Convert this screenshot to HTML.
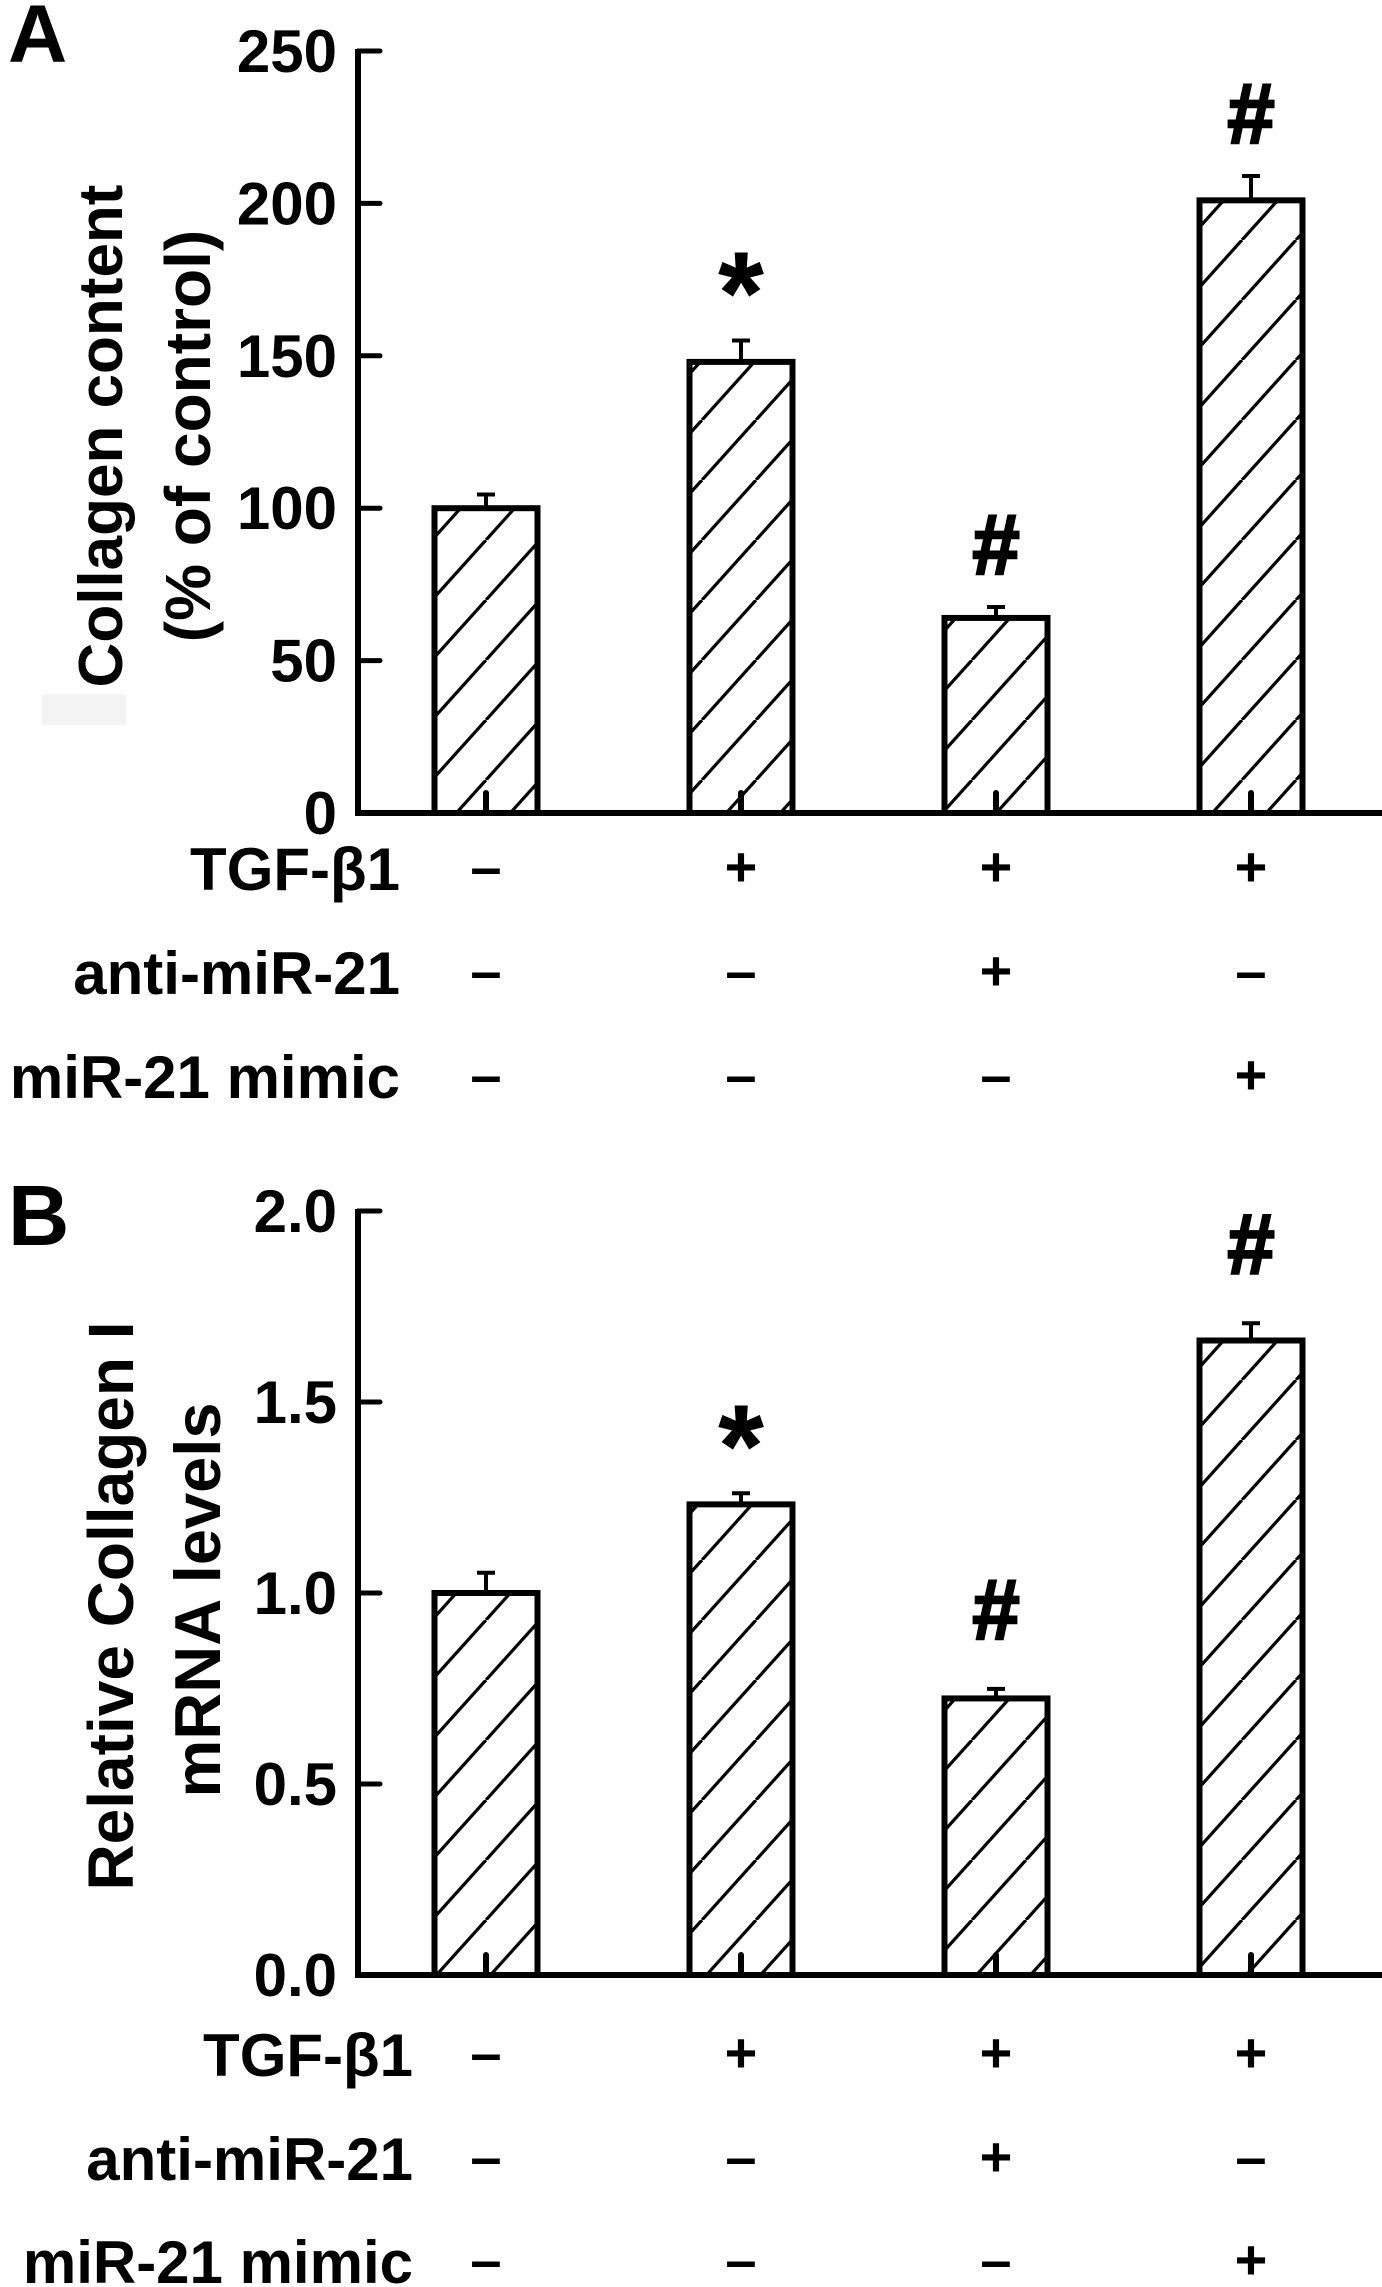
<!DOCTYPE html>
<html><head><meta charset="utf-8"><style>
html,body{margin:0;padding:0;background:#fff;}
svg{display:block;font-family:"Liberation Sans",Arial,sans-serif;font-weight:bold;}
</style></head><body>
<svg id="chart" width="1382" height="2287" viewBox="0 0 1382 2287" xmlns="http://www.w3.org/2000/svg">
<defs>
<pattern id="hatch" patternUnits="userSpaceOnUse" width="54" height="60">
<line x1="0" y1="60" x2="54" y2="0" stroke="#000" stroke-width="3.2"/>
<line x1="-54" y1="60" x2="0" y2="0" stroke="#000" stroke-width="3.2"/>
<line x1="54" y1="60" x2="108" y2="0" stroke="#000" stroke-width="3.2"/>
</pattern>
</defs>
<rect x="42" y="694" width="84" height="31" fill="#f4f4f4"/>
<text x="8" y="62" font-size="82">A</text>
<text x="8" y="1245" font-size="85">B</text>
<text transform="translate(122,436) rotate(-90)" text-anchor="middle" font-size="62">Collagen content</text>
<text transform="translate(210,436) rotate(-90)" text-anchor="middle" font-size="64">(% of control)</text>
<text transform="translate(133,1606) rotate(-90)" text-anchor="middle" font-size="64">Relative Collagen I</text>
<text transform="translate(220,1600) rotate(-90)" text-anchor="middle" font-size="65">mRNA levels</text>
<g id="panelA"></g>
<g id="panelB"></g>
</svg>
<script>
const groups = ["control","TGF-b1","TGF-b1+anti-miR-21","TGF-b1+miR-21 mimic"];
const valuesA = [100, 148, 64, 201];
const errorsA = [4.5, 7, 3.6, 8];
const ticksA = [0, 50, 100, 150, 200, 250];
const tickLabelsA = ["0","50","100","150","200","250"];
const valuesB = [1.0, 1.232, 0.724, 1.661];
const errorsB = [0.053, 0.029, 0.025, 0.045];
const ticksB = [0, 0.5, 1.0, 1.5, 2.0];
const tickLabelsB = ["0.0","0.5","1.0","1.5","2.0"];
const rowNames = ["TGF-β1","anti-miR-21","miR-21 mimic"];
const rowSigns = [["–","+","+","+"],["–","–","+","–"],["–","–","–","+"]];
const marksA = ["","*","#","#"];
const marksB = ["","*","#","#"];

const NS="http://www.w3.org/2000/svg";
function mk(parent, tag, attrs, text){
  const e=document.createElementNS(NS,tag);
  for(const k in attrs) e.setAttribute(k,attrs[k]);
  if(text!==undefined) e.textContent=text;
  parent.appendChild(e); return e;
}
const axisX=358, barW=103;
function xCenter(i){ return 486 + i*255; }

function drawPanel(g, cfg){
  const y = v => cfg.y0 - (v - cfg.min)/(cfg.max - cfg.min)*(cfg.y0 - cfg.yTop);
  let e=mk(g,'line',{x1:axisX,y1:y(cfg.max)-2,x2:axisX,y2:cfg.y0,stroke:'#000','stroke-width':6});
  
  
  cfg.ticks.forEach((t,i)=>{
    let tk=mk(g,'line',{x1:axisX,y1:y(t),x2:axisX+22,y2:y(t),stroke:'#000','stroke-width':5,'stroke-linecap':'round'});
    
    
    let lb=mk(g,'text',{x:337,y:y(t)+21,'text-anchor':'end','font-size':60},cfg.tickLabels[i]);
    
    
  });
  groups.forEach((gname,i)=>{
    const cx=xCenter(i), top=y(cfg.values[i]), et=y(cfg.values[i]+cfg.errors[i]);
    let eb=mk(g,'line',{x1:cx,y1:top,x2:cx,y2:et,stroke:'#000','stroke-width':4});
    
    
    let ec=mk(g,'line',{x1:cx-9,y1:et,x2:cx+9,y2:et,stroke:'#000','stroke-width':4});
    
    
    let b=mk(g,'rect',{x:cx-barW/2,y:top,width:barW,height:cfg.y0-top,fill:'url(#hatch)',stroke:'#000','stroke-width':6});
    
    
    let st=mk(g,'line',{x1:cx,y1:cfg.y0,x2:cx,y2:cfg.y0-20,stroke:'#000','stroke-width':6,'stroke-linecap':'round'});
    
    
    if(cfg.marks[i]){
      const isStar=cfg.marks[i]==='*';
      let m=mk(g,'text',{x:cx,y:isStar? et-cfg.starGap : et-cfg.hashGap,'text-anchor':'middle','font-size':isStar?115:85,stroke:'#000','stroke-width':isStar?1:2.5},cfg.marks[i]);
      
      
    }
  });
  e=mk(g,'line',{x1:axisX-3,y1:cfg.y0,x2:1382,y2:cfg.y0,stroke:'#000','stroke-width':6});
  
  
  rowNames.forEach((rn,r)=>{
    const by=cfg.rowBase[r];
    let t=mk(g,'text',{x:cfg.rowRight,y:by,'text-anchor':'end','font-size':60},rn);
    
    
    rowSigns[r].forEach((s,i)=>{
      let sg=mk(g,'text',{x:xCenter(i),y:by-4,'text-anchor':'middle','font-size':56},s);
      
      
    });
  });
}
drawPanel(document.getElementById('panelA'),{min:0,max:250,y0:813,yTop:51,ticks:ticksA,tickLabels:tickLabelsA,values:valuesA,errors:errorsA,marks:marksA,rowBase:[890,994,1098],rowRight:400,hashGap:33,starGap:8});
drawPanel(document.getElementById('panelB'),{min:0,max:2,y0:1975,yTop:1211,ticks:ticksB,tickLabels:tickLabelsB,values:valuesB,errors:errorsB,marks:marksB,rowBase:[2076,2180,2283],rowRight:413,hashGap:50,starGap:8});
</script>
</body></html>
